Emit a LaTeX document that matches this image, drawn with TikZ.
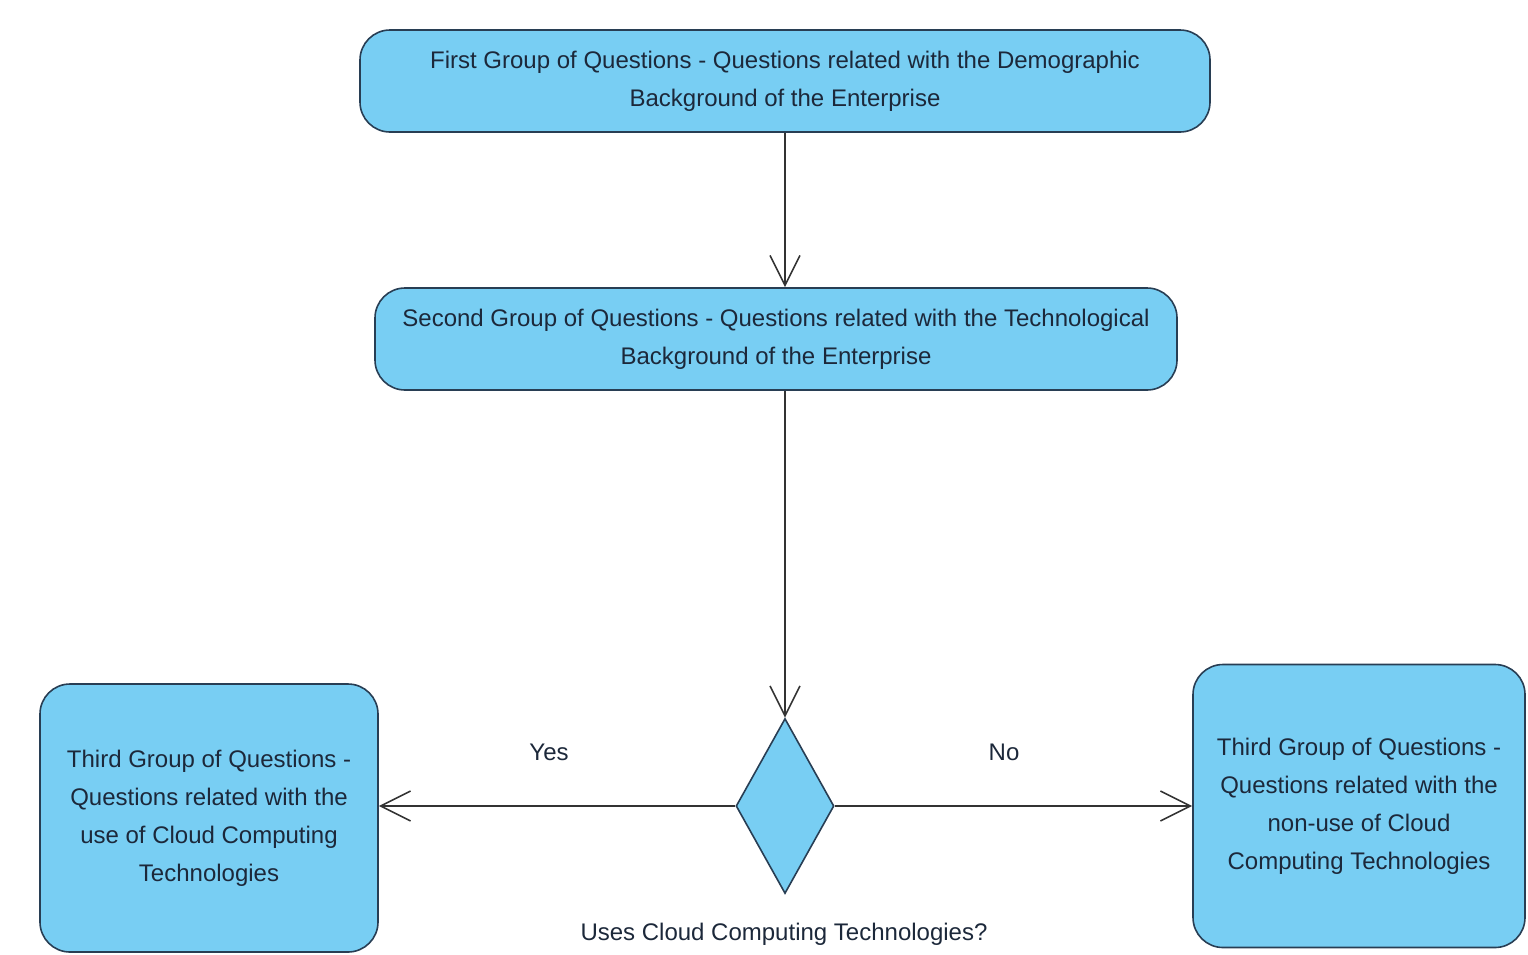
\documentclass[tikz,border=0pt]{standalone}
\usepackage{fontspec}
\setmainfont{Liberation Sans}
\usetikzlibrary{shapes.geometric,arrows.meta}
\definecolor{boxblue}{RGB}{120,206,243}
\definecolor{boxline}{RGB}{40,62,84}
\definecolor{txtdark}{RGB}{28,40,58}

\begin{document}
\begin{tikzpicture}
  [x=1pt,y=-1pt,font=\fontsize{24}{38}\selectfont,
   every node/.style={text=txtdark},
   group/.style={rounded corners=30pt,draw=boxline,line width=1.6pt,fill=boxblue,align=center,inner sep=0pt},
   link/.style={line width=1.6pt,draw=black!80,-{Straight Barb[length=30pt,width=30pt,line width=1.6pt]}}]
  \useasboundingbox (0,0) rectangle (1528,954);
  \node[group,minimum width=850pt,minimum height=102pt] (first) at (785,81)
    {First Group of Questions - Questions related with the Demographic\\Background of the Enterprise};
  \node[group,minimum width=802pt,minimum height=102pt] (second) at (776,339)
    {Second Group of Questions - Questions related with the Technological\\Background of the Enterprise};
  \node[diamond,draw=boxline,line width=1.6pt,fill=boxblue,inner sep=0pt,
        minimum width=98pt,minimum height=175pt] (decide) at (785,806) {};
  \node[group,minimum width=338pt,minimum height=268pt] (yesbox) at (209,818)
    {Third Group of Questions -\\Questions related with the\\use of Cloud Computing\\Technologies};
  \node[group,minimum width=332pt,minimum height=283pt] (nobox) at (1359,806)
    {Third Group of Questions -\\Questions related with the\\non-use of Cloud\\Computing Technologies};

  \node (yes) at (549,752) {Yes};
  \node (no) at (1004,752) {No};
  \node (question) at (784,934) {Uses Cloud Computing Technologies?};

  \draw[link] (first.south -| decide.north) -- (second.north -| decide.north);
  \draw[link] (second.south -| decide.north) -- (decide.north);
  \draw[link] (decide.west) -- (decide.west -| yesbox.east);
  \draw[link] (decide.east) -- (decide.east -| nobox.west);

\end{tikzpicture}
\end{document}
